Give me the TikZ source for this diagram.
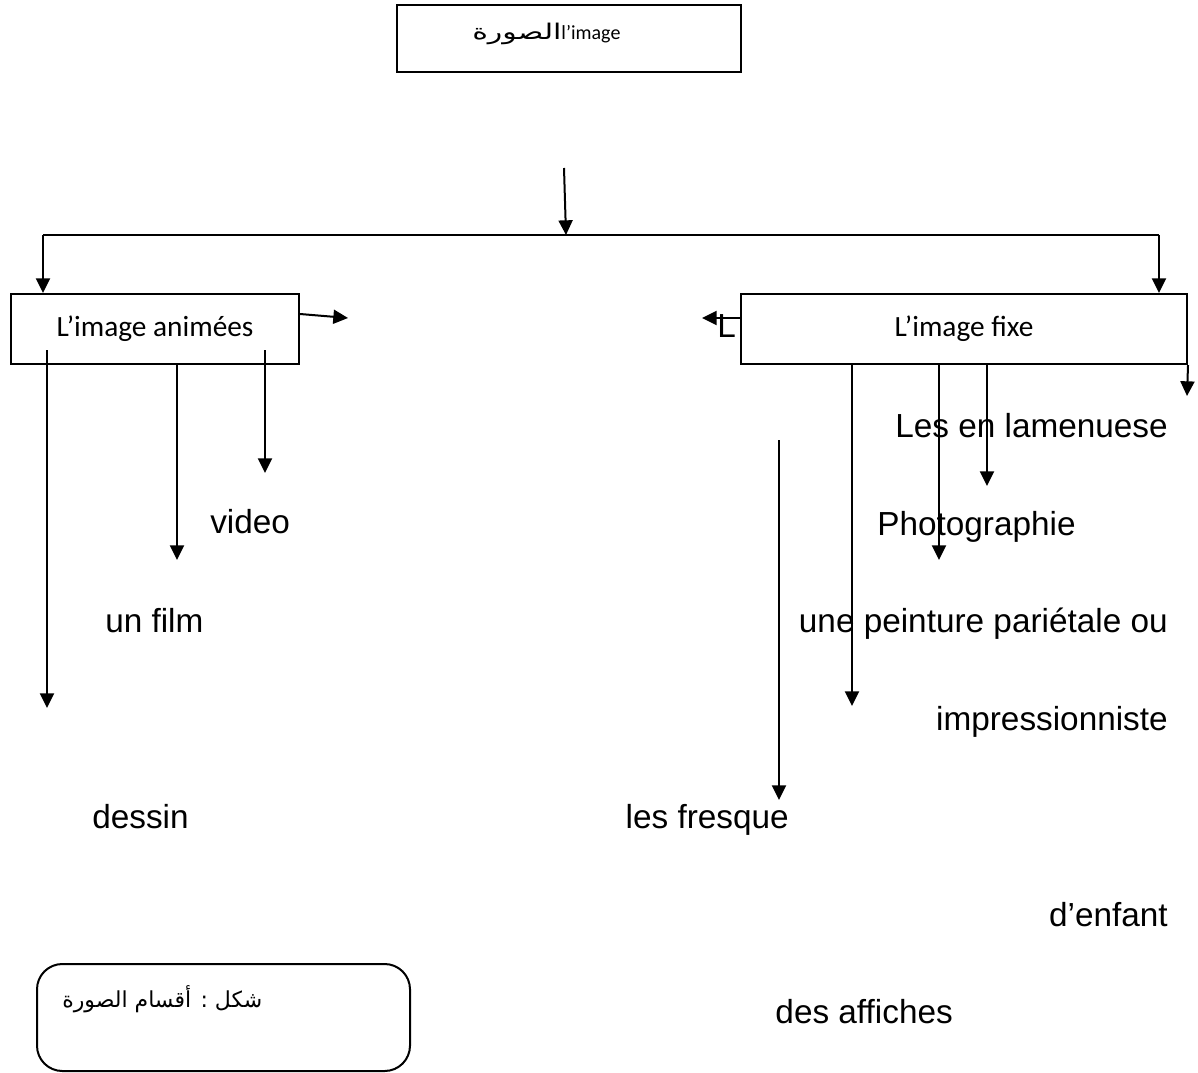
\documentclass[tikz,border=0pt]{standalone}
\usepackage{fontspec}
\usepackage{graphicx}
\usetikzlibrary{arrows.meta,positioning}
\newfontfamily\arial{Liberation Sans}
\newfontfamily\calibri{Carlito}
\newfontfamily\arabicfont[Script=Arabic]{DejaVu Sans}
\TeXXeTstate=1

\tikzset{
  box/.style={draw, line width=1.5pt, inner sep=0pt, font=\calibri\fontsize{22}{26}\selectfont},
  arr/.style={line width=1.5pt, -{Triangle[width=10.5pt,length=11pt]}},
  item/.style={inner sep=0pt, font=\arial\fontsize{25}{30}\selectfont},
}

\begin{document}
\begin{tikzpicture}[x=0.75pt, y=-0.75pt]
	\useasboundingbox (0,0) rectangle (1198,1073);

	% Boxes:
	\node[box, minimum width=258pt, minimum height=50.25pt] (img) at (569,38.5) {};
	\node[box, minimum width=216pt, minimum height=52.5pt] (anim) at (155,329) {L’image animées};
	\node[box, minimum width=334.5pt, minimum height=52.5pt] (fixe) at (964,329) {L’image fixe};
	\node[draw, line width=1.5pt, rounded corners=19pt, minimum width=279.75pt, minimum height=80.25pt] (legend) at (223.5,1017.5) {};

	% Coordinates:
	\coordinate (drop) at (564,168);
	\coordinate (busM) at (566,235);
	\coordinate (busL) at (43,235);
	\coordinate (busR) at (1159,235);
	\coordinate (animout) at (348,318);
	\coordinate (fixeout) at (702,318);
	\coordinate (tDessin) at (47,708);
	\coordinate (tFilm) at (177,560);
	\coordinate (tVideo) at (265,473);
	\coordinate (tPeint) at (852,706);
	\coordinate (tPhoto) at (939,560);
	\coordinate (tLes) at (987,486);
	\coordinate (tRight) at (1187,396);
	\coordinate (fTop) at (779,440);
	\coordinate (fBot) at (779,800);

	% Lines:
	\draw[arr] (drop) -- (busM);
	\draw[line width=1.5pt] (busL) -- (busR);
	\draw[arr] (busL) -- (busL |- anim.north);
	\draw[arr] (busR) -- (busR |- fixe.north);
	\draw[arr] (anim.east |- 0,314) -- (animout);
	\draw[arr] (fixe.west |- fixeout) -- (fixeout);
	\draw[arr] (tDessin |- 0,350) -- (tDessin);
	\draw[arr] (tFilm |- anim.south) -- (tFilm);
	\draw[arr] (tVideo |- 0,350) -- (tVideo);
	\draw[arr] (tPeint |- fixe.south) -- (tPeint);
	\draw[arr] (tPhoto |- fixe.south) -- (tPhoto);
	\draw[arr] (tLes |- fixe.south) -- (tLes);
	\draw[arr] (fixe.south east) -- (tRight);
	\draw[arr] (fTop) -- (fBot);

	% Labels
	\node[inner sep=0pt, anchor=base west, font=\calibri\fontsize{15}{18}\selectfont] (imgtext) at (472,40) {\scalebox{1.5}[1.08]{\arabicfont\beginR الصورة\endR}l’image};
	\node[item, anchor=base west] (Lmark) at (717,337) {L};
	\node[inner sep=0pt, anchor=base west, font=\arabicfont\fontsize{16.5}{20}\selectfont] (legendtext) at (62,1007) {\beginR شكل : أقسام الصورة\endR};

	\node[item, anchor=base west] (video) at (210,533) {video};
	\node[item, anchor=base west] (film) at (105,632) {un film};
	\node[item, anchor=base west] (dessin) at (92,828) {dessin};
	\node[item, anchor=base east] (lames) at (1168,437) {Les en lamenuese};
	\node[item, anchor=base west] (photo) at (877,535) {Photographie};
	\node[item, anchor=base east] (peint) at (1168,632) {une peinture pariétale ou};
	\node[item, anchor=base east] (impr) at (1168,730) {impressionniste};
	\node[item, anchor=base east] (fresque) at (789,828) {les fresque};
	\node[item, anchor=base east] (enfant) at (1168,926) {d’enfant};
	\node[item, anchor=base east] (affiches) at (953,1023) {des affiches};

\end{tikzpicture}
\end{document}
